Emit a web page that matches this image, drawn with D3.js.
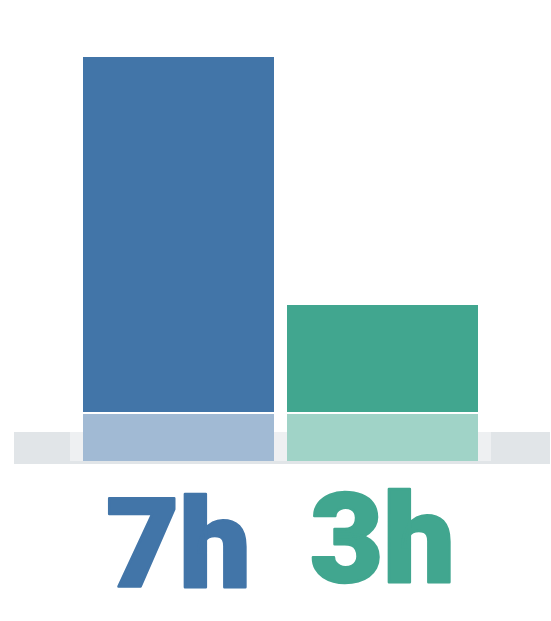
<!DOCTYPE html>
<html>
<head>
<meta charset="utf-8">
<script src="https://cdn.jsdelivr.net/npm/d3@7"></script>
<style>
  html, body { margin: 0; padding: 0; background: #fff; }
  svg { display: block; }
</style>
</head>
<body>
<script>
// Hours per bar and their labels
const values = [7, 3];
const labels = ["7h", "3h"];
const colors = ["#4275a8", "#41a68f"];

const W = 551, H = 621;
const svg = d3.select("body").append("svg").attr("width", W).attr("height", H);

const x = d3.scaleBand().domain(d3.range(values.length)).range([83, 478]).paddingInner(13 / 204).paddingOuter(0);
const y = d3.scaleLinear().domain([0, 7]).range([491, 57]);

const splitTop = 412, splitBottom = 414, baseBottom = 461;

// floor band behind the bars
svg.append("rect").attr("x", 14).attr("y", 432).attr("width", 536).attr("height", 32).attr("fill", "#e1e5e8");
svg.append("rect").attr("x", 70).attr("y", 432).attr("width", 421).attr("height", 29).attr("fill", "#eef0f2");

const g = svg.selectAll("g.bar").data(values).join("g").attr("class", "bar");

// main bar
g.append("rect")
  .attr("x", (d, i) => x(i))
  .attr("width", x.bandwidth())
  .attr("y", d => y(d))
  .attr("height", d => splitTop - y(d))
  .attr("fill", (d, i) => colors[i]);

// lighter base segment
g.append("rect")
  .attr("x", (d, i) => x(i))
  .attr("width", x.bandwidth())
  .attr("y", splitBottom)
  .attr("height", baseBottom - splitBottom)
  .attr("fill", (d, i) => d3.interpolateRgb(colors[i], "#fff")(0.5));

// big value labels
g.append("text")
  .attr("x", (d, i) => x(i) + x.bandwidth() / 2)
  .attr("y", (d, i) => i === 0 ? 587 : 582)
  .attr("text-anchor", "middle")
  .attr("font-family", "Roboto, 'Liberation Sans', sans-serif")
  .attr("font-weight", 900)
  .attr("font-size", 124)
  .attr("textLength", 145)
  .attr("lengthAdjust", "spacingAndGlyphs")
  .attr("fill", (d, i) => colors[i])
  .attr("stroke", (d, i) => colors[i])
  .attr("stroke-width", 2.5)
  .attr("stroke-linejoin", "round")
  .text((d, i) => labels[i]);
</script>
</body>
</html>
